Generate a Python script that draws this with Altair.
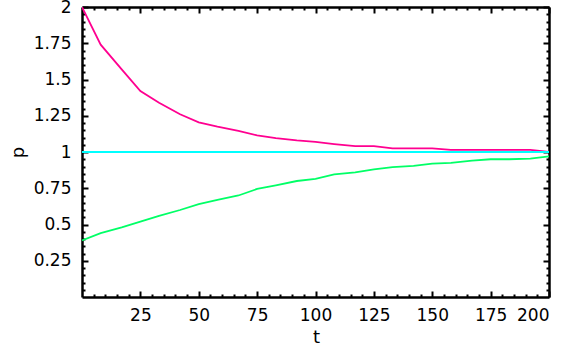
import altair as alt
import pandas as pd

# ---- data ----
t_values = [0, 8, 17, 25, 33, 42, 50, 58, 67, 75, 83, 92, 100, 108, 117, 125,
            133, 142, 150, 158, 167, 175, 183, 192, 200]
p_upper = [2.0, 1.74, 1.57, 1.42, 1.34, 1.26, 1.205, 1.175, 1.145, 1.115, 1.095,
           1.08, 1.07, 1.055, 1.04, 1.04, 1.025, 1.025, 1.025, 1.015, 1.015,
           1.015, 1.015, 1.015, 1.0]
p_lower = [0.39, 0.44, 0.48, 0.52, 0.56, 0.60, 0.64, 0.67, 0.70, 0.745, 0.77,
           0.80, 0.815, 0.845, 0.86, 0.88, 0.895, 0.905, 0.92, 0.925, 0.94,
           0.95, 0.95, 0.955, 0.97]
t_equilibrium = [0, 200]
p_equilibrium = [1.0, 1.0]

series_names = ["upper", "equilibrium", "lower"]
series_colors = ["#ff0090", "#00ffff", "#00ff66"]

x_major = [25, 50, 75, 100, 125, 150, 175, 200]
x_minor = [v for v in range(5, 200, 5) if v % 25 != 0]
y_major = [0.25, 0.5, 0.75, 1, 1.25, 1.5, 1.75, 2]
y_minor = [round(i * 0.05, 2) for i in range(1, 40) if i % 5 != 0]

rows = []
for t, p in zip(t_values, p_upper):
    rows.append({"t": t, "p": p, "series": "upper"})
for t, p in zip(t_equilibrium, p_equilibrium):
    rows.append({"t": t, "p": p, "series": "equilibrium"})
for t, p in zip(t_values, p_lower):
    rows.append({"t": t, "p": p, "series": "lower"})
df = pd.DataFrame(rows)

FONT = "DejaVu Sans"
xscale = alt.Scale(domain=[0, 200], nice=False, zero=False)
yscale = alt.Scale(domain=[0, 2], nice=False, zero=False)

MAJOR = {"expr": "-6"}
MINOR = {"expr": "-3"}
DOMAIN = dict(domain=True, domainColor="black", domainWidth=2.5)


def tick_axis(orient, values, size, with_domain):
    extra = DOMAIN if with_domain else {"domain": False}
    return alt.Axis(orient=orient, values=values, tickSize=size, labels=False,
                    grid=False, title=None, tickColor="black",
                    tickWidth=2, **extra)


lines = alt.Chart(df).mark_line(strokeWidth=1.8, clip=True).encode(
    x=alt.X("t:Q", scale=xscale,
            axis=alt.Axis(orient="bottom", values=x_major, tickSize=MAJOR,
                          tickWidth=2, tickColor="black", **DOMAIN,
                          grid=False, labelExpr="'' + datum.value",
                          labelFont=FONT, labelFontSize=17,
                          labelColor="black", labelPadding=16, title="t",
                          titleFont=FONT, titleFontSize=18,
                          titleFontWeight="normal", titleColor="black",
                          titleX=234, titleY=45,
                          titleBaseline="alphabetic")),
    y=alt.Y("p:Q", scale=yscale,
            axis=alt.Axis(orient="left", values=y_major, tickSize=MAJOR,
                          tickWidth=2, tickColor="black", **DOMAIN,
                          grid=False, labelExpr="'' + datum.value",
                          labelFont=FONT, labelFontSize=17,
                          labelColor="black", labelPadding=17, title="p",
                          titleFont=FONT, titleFontSize=18,
                          titleFontWeight="normal", titleColor="black",
                          titleX=-64, titleY=145, titleBaseline="middle",
                          titleAngle=270)),
    color=alt.Color("series:N",
                    scale=alt.Scale(domain=series_names, range=series_colors),
                    legend=None),
    detail="series:N",
)

dummy = alt.Chart(df).mark_point(opacity=0)

top_right_major = dummy.encode(
    x=alt.X("t:Q", scale=xscale, axis=tick_axis("top", x_major, MAJOR, True)),
    y=alt.Y("p:Q", scale=yscale, axis=tick_axis("right", y_major, MAJOR, True)),
)
bottom_left_minor = dummy.encode(
    x=alt.X("t:Q", scale=xscale, axis=tick_axis("bottom", x_minor, MINOR, False)),
    y=alt.Y("p:Q", scale=yscale, axis=tick_axis("left", y_minor, MINOR, False)),
)
top_right_minor = dummy.encode(
    x=alt.X("t:Q", scale=xscale, axis=tick_axis("top", x_minor, MINOR, False)),
    y=alt.Y("p:Q", scale=yscale, axis=tick_axis("right", y_minor, MINOR, False)),
)

chart = alt.layer(
    lines, top_right_major, bottom_left_minor, top_right_minor
).resolve_axis(x="independent", y="independent").properties(
    width=467,
    height=290,
    autosize=alt.AutoSizeParams(type="none"),
    padding={"left": 82, "top": 7, "right": 20, "bottom": 55},
).configure_view(
    stroke="black", strokeWidth=2.5
).configure(background="white")

chart.save("out.html", embed_options={"renderer": "svg", "actions": False})
